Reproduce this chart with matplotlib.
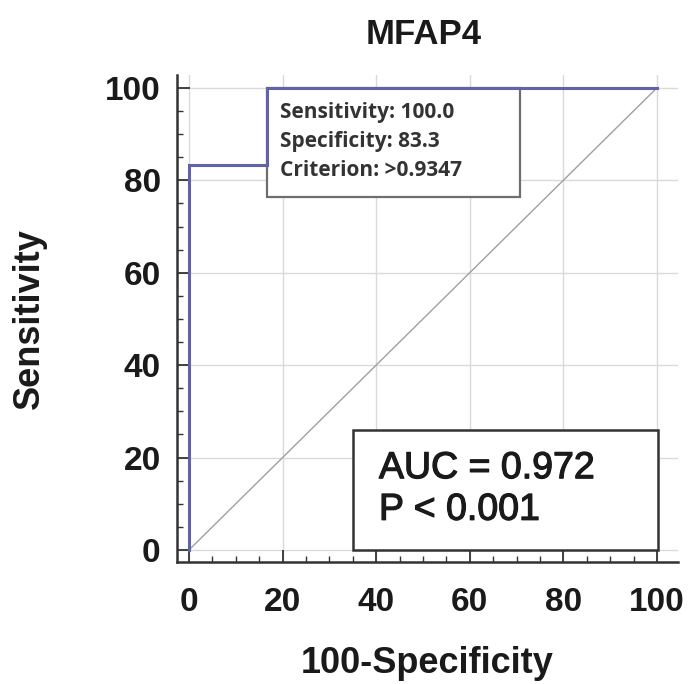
import matplotlib.pyplot as plt
import matplotlib.patheffects as pe
from matplotlib.patches import Rectangle
from matplotlib.ticker import MultipleLocator

# ROC curve points (100-Specificity, Sensitivity)
fpr = [0, 0, 16.7, 16.7, 100]
tpr = [0, 83.3, 83.3, 100, 100]

sensitivity = 100.0
specificity = 83.3
criterion = ">0.9347"
auc = 0.972
p_text = "P < 0.001"

ticks = [0, 20, 40, 60, 80, 100]

plt.rcParams['font.family'] = ['Liberation Sans', 'DejaVu Sans']

fig = plt.figure(figsize=(6.98, 6.84), dpi=100)
ax = fig.add_axes([0.254, 0.1784, 0.7173, 0.712])

ax.set_xlim(-2.5, 104.5)
ax.set_ylim(-2.6, 102.8)

# grid
for t in ticks:
    ax.axvline(t, color='#dadada', lw=1, zorder=0)
    ax.axhline(t, color='#dadada', lw=1, zorder=0)

# reference diagonal
ax.plot([0, 100], [0, 100], color='#a0a0a0', lw=1, zorder=1)

# ROC step curve
ax.plot(fpr, tpr, color='#6262a8', lw=2.2, zorder=4, solid_joinstyle='miter')

# cut-off info box, anchored at the criterion point
cut_x = 100 - specificity
cut_y = sensitivity
ax.add_patch(Rectangle((cut_x, cut_y), 54, -23.6, facecolor='white',
                       edgecolor='#6e6e6e', lw=1.6, zorder=3))
ax.text(cut_x + 2.8, cut_y - 3.0,
        f"Sensitivity: {sensitivity:.1f}\nSpecificity: {specificity:.1f}\nCriterion: {criterion}",
        family=['Open Sans', 'DejaVu Sans'], fontweight='bold', fontsize=15,
        color='#333333', ha='left', va='top', linespacing=1.5, zorder=5)

# AUC box
ax.add_patch(Rectangle((35, 0), 65.2, 26, facecolor='white',
                       edgecolor='#333333', lw=1.8, zorder=3))
ax.text(40.6, 13.2, f"AUC = {auc:.3f}\n{p_text}", fontsize=27,
        color='#1a1a1a', ha='left', va='center', linespacing=1.2, zorder=5,
        path_effects=[pe.withStroke(linewidth=0.9, foreground='#1a1a1a')])

# axes styling
for s in ['top', 'right']:
    ax.spines[s].set_visible(False)
for s in ['left', 'bottom']:
    ax.spines[s].set_color('#333333')
    ax.spines[s].set_linewidth(1.8)

ax.set_xticks(ticks)
ax.set_yticks(ticks)
ax.xaxis.set_minor_locator(MultipleLocator(5))
ax.yaxis.set_minor_locator(MultipleLocator(5))
ax.tick_params(which='major', direction='in', length=9, width=1.3, color='#333333',
               labelsize=24, pad=12)
ax.tick_params(axis='x', which='major', pad=18)
ax.tick_params(which='minor', direction='in', length=4, width=1, color='#333333')
for lab in ax.get_xticklabels() + ax.get_yticklabels():
    lab.set_fontweight('bold')
    lab.set_color('#1a1a1a')

ax.set_xlabel("100-Specificity", fontsize=26, fontweight='bold', color='#1a1a1a', labelpad=20)
ax.set_ylabel("Sensitivity", fontsize=26, fontweight='bold', color='#1a1a1a', labelpad=42)
ax.set_title("MFAP4", fontsize=25, fontweight='bold', color='#1a1a1a', pad=22, x=0.492)

fig.savefig("out.png", dpi=100)
